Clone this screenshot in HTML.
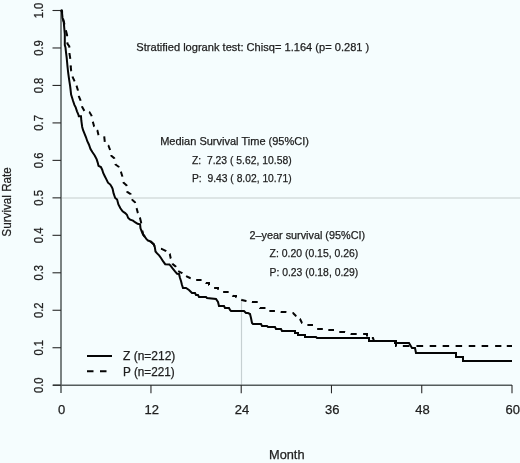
<!DOCTYPE html>
<html><head><meta charset="utf-8"><style>
html,body{margin:0;padding:0;background:#f5fdfe;overflow:hidden;}
svg{display:block;will-change:transform;}
</style></head><body>
<svg width="520" height="463" viewBox="0 0 520 463">
<rect x="0" y="0" width="520" height="463" fill="#f5fdfe"/>
<line x1="61" y1="198" x2="520" y2="198" stroke="#d4dcdc" stroke-width="1.6"/>
<line x1="241.5" y1="385" x2="241.5" y2="300" stroke="#c6d0d2" stroke-width="1.2"/>
<line x1="61" y1="10.5" x2="61" y2="393" stroke="#7a8282" stroke-width="2"/>
<line x1="53" y1="385.2" x2="512" y2="385.2" stroke="#555c5c" stroke-width="1.6"/>
<line x1="52.5" y1="385.20" x2="61" y2="385.20" stroke="#2a2a2a" stroke-width="1.1"/>
<line x1="52.5" y1="347.73" x2="61" y2="347.73" stroke="#2a2a2a" stroke-width="1.1"/>
<line x1="52.5" y1="310.26" x2="61" y2="310.26" stroke="#2a2a2a" stroke-width="1.1"/>
<line x1="52.5" y1="272.79" x2="61" y2="272.79" stroke="#2a2a2a" stroke-width="1.1"/>
<line x1="52.5" y1="235.32" x2="61" y2="235.32" stroke="#2a2a2a" stroke-width="1.1"/>
<line x1="52.5" y1="197.85" x2="61" y2="197.85" stroke="#2a2a2a" stroke-width="1.1"/>
<line x1="52.5" y1="160.38" x2="61" y2="160.38" stroke="#2a2a2a" stroke-width="1.1"/>
<line x1="52.5" y1="122.91" x2="61" y2="122.91" stroke="#2a2a2a" stroke-width="1.1"/>
<line x1="52.5" y1="85.44" x2="61" y2="85.44" stroke="#2a2a2a" stroke-width="1.1"/>
<line x1="52.5" y1="47.97" x2="61" y2="47.97" stroke="#2a2a2a" stroke-width="1.1"/>
<line x1="52.5" y1="10.50" x2="61" y2="10.50" stroke="#2a2a2a" stroke-width="1.1"/>
<line x1="150.96" y1="385" x2="150.96" y2="393.3" stroke="#2a2a2a" stroke-width="1.1"/>
<line x1="241.22" y1="385" x2="241.22" y2="393.3" stroke="#2a2a2a" stroke-width="1.1"/>
<line x1="331.48" y1="385" x2="331.48" y2="393.3" stroke="#2a2a2a" stroke-width="1.1"/>
<line x1="421.74" y1="385" x2="421.74" y2="393.3" stroke="#2a2a2a" stroke-width="1.1"/>
<line x1="512.00" y1="385" x2="512.00" y2="393.3" stroke="#2a2a2a" stroke-width="1.1"/>
<polyline points="60.7,10.5 61.8,10.5 62.5,17.7 63.8,22.3 64.2,27.4 64.8,33.9 64.8,45.0 65.5,47.6 65.9,51.4 66.7,57.9 67.5,66.5 68.2,73.0 69.1,79.4 70.1,85.9 70.5,89.0 71.1,94.5 72.1,97.7 73.1,101.0 74.4,104.9 75.7,107.4 77.0,111.3 78.6,115.2 78.8,116.2 81.0,116.3 81.3,120.5 82.2,127.0 83.1,130.2 84.4,133.4 86.0,137.3 87.3,141.2 88.9,144.5 90.5,149.0 92.5,152.3 94.7,155.5 96.7,159.4 97.7,162.6 98.5,165.8 100.9,167.1 102.2,169.7 103.2,173.0 104.8,176.2 106.4,179.4 108.0,182.7 110.3,184.6 111.9,187.2 112.6,188.9 113.6,193.4 115.2,198.0 117.1,199.6 118.4,204.4 120.4,208.3 122.6,211.3 125.2,213.1 126.9,214.7 128.2,218.0 130.1,219.6 133.0,220.6 135.0,222.2 137.6,223.8 140.1,224.4 140.5,228.3 141.8,231.5 143.1,234.7 145.0,237.0 146.3,238.9 148.0,240.5 151.0,241.5 153.8,244.4 154.8,247.0 155.5,251.5 157.1,253.4 159.1,255.4 161.0,258.0 163.0,261.2 165.2,264.2 169.4,264.4 171.1,266.4 173.0,269.0 175.2,271.7 177.1,273.7 179.0,274.0 180.0,278.0 181.0,281.0 182.0,285.0 183.0,288.0 186.0,288.0 189.0,290.0 190.0,291.0 192.0,293.0 195.0,293.0 196.0,295.0 198.0,295.0 199.0,297.0 206.0,297.0 207.0,298.0 216.0,299.0 218.0,302.0 219.0,306.0 224.0,306.0 225.0,308.0 229.0,308.0 230.0,310.0 231.0,311.0 244.0,311.0 246.0,313.0 248.0,313.0 250.0,314.0 251.0,318.0 252.0,323.0 253.0,324.0 261.0,324.0 262.0,326.0 267.0,326.0 268.0,327.0 275.0,327.0 276.0,329.0 281.0,329.0 282.0,331.0 295.0,331.0 295.0,333.0 298.0,333.0 298.0,335.0 305.0,335.0 305.0,337.0 316.0,337.0 317.0,338.0 369.0,338.0 369.0,341.0 395.0,341.0 395.0,343.0 409.0,343.0 412.0,348.0 415.0,348.0 416.0,353.0 456.0,353.0 456.0,357.0 463.0,357.0 463.0,361.0 512.0,361.0" fill="none" stroke="#050505" stroke-width="2" stroke-linejoin="miter"/>
<path d="M60.70,10.50 L62.00,11.00 L62.21,12.74 M63.04,18.68 L64.00,22.50 L64.45,24.51 M65.85,30.33 L66.10,31.30 L67.10,35.20 L67.14,36.20 M67.35,42.38 L67.40,43.70 L69.30,46.30 L69.34,47.62 M69.48,53.02 L69.50,53.70 L70.20,58.20 L70.24,58.88 M70.65,65.38 L70.70,66.20 L71.10,70.40 L71.29,71.20 M72.54,76.53 L72.70,77.20 L74.30,80.70 L74.58,81.33 M76.49,85.66 L76.60,85.90 L77.90,90.30 L77.94,90.56 M78.81,95.83 L78.90,96.40 L80.50,100.30 L80.64,100.86 M81.97,106.27 L82.10,106.80 L84.10,110.40 L84.45,110.83 M88.87,112.17 L89.60,112.30 L91.50,115.50 L91.65,116.22 M92.82,121.73 L92.90,122.10 L94.10,126.30 L94.33,126.60 M97.10,130.12 L97.40,130.50 L98.40,134.70 L98.63,135.12 M104.21,136.48 L104.79,141.82 M108.18,145.28 L108.40,145.50 L110.00,149.70 L110.06,150.00 M111.15,155.08 L111.30,155.80 L114.20,158.10 L114.35,158.82 M115.39,163.96 L115.50,164.50 L118.70,166.80 L118.92,167.31 M120.85,171.65 L121.00,172.00 L122.30,176.20 L122.37,176.57 M123.46,181.99 L123.60,182.70 L126.50,185.30 L126.58,186.02 M127.15,191.34 L127.20,191.80 L130.70,194.10 L130.83,194.54 M132.17,199.12 L132.40,199.90 L135.00,202.20 L135.21,202.98 M136.58,208.13 L136.60,208.20 L137.90,213.10 L137.93,213.16 M139.76,217.51 L140.10,218.30 L141.10,222.50 L141.20,223.35 M142.36,230.60 L143.00,234.00 L144.97,236.82 M150.16,241.14 L153.80,244.40 L154.53,246.28 M160.94,248.82 L161.70,248.90 L165.60,250.80 L166.20,251.27 M169.54,253.90 L169.80,254.10 L170.70,258.30 L170.81,258.61 M172.50,263.51 L172.70,264.10 L175.60,266.40 L175.89,266.95 M178.18,271.09 L182.00,273.00 L182.41,273.31 M186.08,276.04 L190.00,278.00 L190.71,278.24 M196.18,280.00 L201.56,280.00 M205.72,282.79 L206.00,283.00 L209.00,283.00 L209.00,285.00 L209.11,285.07 M214.12,288.00 L218.00,288.00 L218.00,289.80 M223.14,292.00 L228.66,292.00 M232.50,295.50 L233.00,296.00 L236.00,296.00 L236.00,297.00 L236.56,297.28 M241.27,299.63 L242.00,300.00 L246.00,301.00 L246.49,301.08 M251.90,301.98 L252.00,302.00 L257.71,302.00 M259.92,307.76 L260.00,308.00 L265.47,308.00 M269.37,311.00 L274.93,311.00 M280.65,311.94 L281.00,312.00 L286.00,312.00 L286.41,312.06 M292.46,312.92 L293.00,313.00 L296.00,316.00 L296.38,316.28 M299.79,318.84 L300.00,319.00 L302.00,323.00 L302.29,323.12 M307.40,325.00 L312.97,325.00 M317.16,329.00 L322.84,329.00 M328.31,330.00 L333.99,330.00 M339.30,332.00 L345.00,332.00 L345.09,332.03 M350.61,333.87 L351.00,334.00 L356.00,334.00 L356.69,334.00 M363.12,334.00 L367.00,334.00 L367.00,336.48 M371.86,338.00 L373.00,338.00 L374.00,341.00 L376.08,341.00 M382.46,341.00 L388.83,341.00 M395.21,341.00 L396.00,341.00 L396.00,346.00 L396.59,346.00 M402.85,346.00 L409.45,346.00 M416.45,346.00 L423.15,346.00 M429.69,346.00 L436.21,346.00 M442.66,346.00 L449.14,346.00 M455.59,346.00 L462.11,346.00 M468.74,346.00 L475.26,346.00 M481.62,346.00 L488.18,346.00 M495.13,346.00 L501.37,346.00 M506.77,346.00 L512.00,346.00" fill="none" stroke="#050505" stroke-width="2"/>
<line x1="87" y1="356" x2="112" y2="356" stroke="#050505" stroke-width="2"/>
<path d="M87,371.2 H93.5 M100,371.2 H106.5" stroke="#050505" stroke-width="1.9"/>
<text x="136.3" y="51.2" font-size="11.6" font-family="'Liberation Sans', sans-serif" style="white-space:pre" fill="#202020" stroke="#202020" stroke-width="0.25" text-anchor="start" textLength="233" lengthAdjust="spacingAndGlyphs" xml:space="preserve">Stratified logrank test: Chisq= 1.164 (p= 0.281 )</text>
<text x="160.2" y="144.5" font-size="11.6" font-family="'Liberation Sans', sans-serif" style="white-space:pre" fill="#202020" stroke="#202020" stroke-width="0.25" text-anchor="start" textLength="148.8" lengthAdjust="spacingAndGlyphs" xml:space="preserve">Median Survival Time (95%CI)</text>
<text x="192" y="163.6" font-size="11.6" font-family="'Liberation Sans', sans-serif" style="white-space:pre" fill="#202020" stroke="#202020" stroke-width="0.25" text-anchor="start" textLength="99.6" lengthAdjust="spacingAndGlyphs" xml:space="preserve">Z:  7.23 ( 5.62, 10.58)</text>
<text x="192" y="182.1" font-size="11.6" font-family="'Liberation Sans', sans-serif" style="white-space:pre" fill="#202020" stroke="#202020" stroke-width="0.25" text-anchor="start" textLength="99.6" lengthAdjust="spacingAndGlyphs" xml:space="preserve">P:  9.43 ( 8.02, 10.71)</text>
<text x="249.5" y="238.6" font-size="11.6" font-family="'Liberation Sans', sans-serif" style="white-space:pre" fill="#202020" stroke="#202020" stroke-width="0.25" text-anchor="start" textLength="115.6" lengthAdjust="spacingAndGlyphs" xml:space="preserve">2–year survival (95%CI)</text>
<text x="269.5" y="257.2" font-size="11.6" font-family="'Liberation Sans', sans-serif" style="white-space:pre" fill="#202020" stroke="#202020" stroke-width="0.25" text-anchor="start" textLength="88.8" lengthAdjust="spacingAndGlyphs" xml:space="preserve">Z: 0.20 (0.15, 0.26)</text>
<text x="269.5" y="275.6" font-size="11.6" font-family="'Liberation Sans', sans-serif" style="white-space:pre" fill="#202020" stroke="#202020" stroke-width="0.25" text-anchor="start" textLength="88.8" lengthAdjust="spacingAndGlyphs" xml:space="preserve">P: 0.23 (0.18, 0.29)</text>
<text x="123" y="360.4" font-size="12" font-family="'Liberation Sans', sans-serif" style="white-space:pre" fill="#202020" stroke="#202020" stroke-width="0.25" text-anchor="start" textLength="52.3" lengthAdjust="spacingAndGlyphs" xml:space="preserve">Z (n=212)</text>
<text x="123" y="375.8" font-size="12" font-family="'Liberation Sans', sans-serif" style="white-space:pre" fill="#202020" stroke="#202020" stroke-width="0.25" text-anchor="start" textLength="51.8" lengthAdjust="spacingAndGlyphs" xml:space="preserve">P (n=221)</text>
<text x="61.5" y="413.6" font-size="13" font-family="'Liberation Sans', sans-serif" style="white-space:pre" fill="#202020" stroke="#202020" stroke-width="0.25" text-anchor="middle" xml:space="preserve">0</text>
<text x="151.76" y="413.6" font-size="13" font-family="'Liberation Sans', sans-serif" style="white-space:pre" fill="#202020" stroke="#202020" stroke-width="0.25" text-anchor="middle" xml:space="preserve">12</text>
<text x="242.02" y="413.6" font-size="13" font-family="'Liberation Sans', sans-serif" style="white-space:pre" fill="#202020" stroke="#202020" stroke-width="0.25" text-anchor="middle" xml:space="preserve">24</text>
<text x="332.28" y="413.6" font-size="13" font-family="'Liberation Sans', sans-serif" style="white-space:pre" fill="#202020" stroke="#202020" stroke-width="0.25" text-anchor="middle" xml:space="preserve">36</text>
<text x="422.54" y="413.6" font-size="13" font-family="'Liberation Sans', sans-serif" style="white-space:pre" fill="#202020" stroke="#202020" stroke-width="0.25" text-anchor="middle" xml:space="preserve">48</text>
<text x="512.8" y="413.6" font-size="13" font-family="'Liberation Sans', sans-serif" style="white-space:pre" fill="#202020" stroke="#202020" stroke-width="0.25" text-anchor="middle" xml:space="preserve">60</text>
<text x="269" y="459.2" font-size="12.5" font-family="'Liberation Sans', sans-serif" style="white-space:pre" fill="#202020" stroke="#202020" stroke-width="0.25" text-anchor="start" textLength="35.5" lengthAdjust="spacingAndGlyphs" xml:space="preserve">Month</text>
<text x="43.0" y="385.2" font-size="12.5" font-family="'Liberation Sans', sans-serif" style="white-space:pre" fill="#202020" stroke="#202020" stroke-width="0.25" text-anchor="middle" textLength="15.6" lengthAdjust="spacingAndGlyphs" transform="rotate(-90 43.0 385.2)" xml:space="preserve">0.0</text>
<text x="43.0" y="347.73" font-size="12.5" font-family="'Liberation Sans', sans-serif" style="white-space:pre" fill="#202020" stroke="#202020" stroke-width="0.25" text-anchor="middle" textLength="15.6" lengthAdjust="spacingAndGlyphs" transform="rotate(-90 43.0 347.73)" xml:space="preserve">0.1</text>
<text x="43.0" y="310.26" font-size="12.5" font-family="'Liberation Sans', sans-serif" style="white-space:pre" fill="#202020" stroke="#202020" stroke-width="0.25" text-anchor="middle" textLength="15.6" lengthAdjust="spacingAndGlyphs" transform="rotate(-90 43.0 310.26)" xml:space="preserve">0.2</text>
<text x="43.0" y="272.79" font-size="12.5" font-family="'Liberation Sans', sans-serif" style="white-space:pre" fill="#202020" stroke="#202020" stroke-width="0.25" text-anchor="middle" textLength="15.6" lengthAdjust="spacingAndGlyphs" transform="rotate(-90 43.0 272.79)" xml:space="preserve">0.3</text>
<text x="43.0" y="235.32" font-size="12.5" font-family="'Liberation Sans', sans-serif" style="white-space:pre" fill="#202020" stroke="#202020" stroke-width="0.25" text-anchor="middle" textLength="15.6" lengthAdjust="spacingAndGlyphs" transform="rotate(-90 43.0 235.32)" xml:space="preserve">0.4</text>
<text x="43.0" y="197.85" font-size="12.5" font-family="'Liberation Sans', sans-serif" style="white-space:pre" fill="#202020" stroke="#202020" stroke-width="0.25" text-anchor="middle" textLength="15.6" lengthAdjust="spacingAndGlyphs" transform="rotate(-90 43.0 197.85)" xml:space="preserve">0.5</text>
<text x="43.0" y="160.38" font-size="12.5" font-family="'Liberation Sans', sans-serif" style="white-space:pre" fill="#202020" stroke="#202020" stroke-width="0.25" text-anchor="middle" textLength="15.6" lengthAdjust="spacingAndGlyphs" transform="rotate(-90 43.0 160.38)" xml:space="preserve">0.6</text>
<text x="43.0" y="122.91" font-size="12.5" font-family="'Liberation Sans', sans-serif" style="white-space:pre" fill="#202020" stroke="#202020" stroke-width="0.25" text-anchor="middle" textLength="15.6" lengthAdjust="spacingAndGlyphs" transform="rotate(-90 43.0 122.91)" xml:space="preserve">0.7</text>
<text x="43.0" y="85.44" font-size="12.5" font-family="'Liberation Sans', sans-serif" style="white-space:pre" fill="#202020" stroke="#202020" stroke-width="0.25" text-anchor="middle" textLength="15.6" lengthAdjust="spacingAndGlyphs" transform="rotate(-90 43.0 85.44)" xml:space="preserve">0.8</text>
<text x="43.0" y="47.97" font-size="12.5" font-family="'Liberation Sans', sans-serif" style="white-space:pre" fill="#202020" stroke="#202020" stroke-width="0.25" text-anchor="middle" textLength="15.6" lengthAdjust="spacingAndGlyphs" transform="rotate(-90 43.0 47.97)" xml:space="preserve">0.9</text>
<text x="43.0" y="10.5" font-size="12.5" font-family="'Liberation Sans', sans-serif" style="white-space:pre" fill="#202020" stroke="#202020" stroke-width="0.25" text-anchor="middle" textLength="15.6" lengthAdjust="spacingAndGlyphs" transform="rotate(-90 43.0 10.5)" xml:space="preserve">1.0</text>
<text x="11.2" y="201.9" font-size="12.5" font-family="'Liberation Sans', sans-serif" style="white-space:pre" fill="#202020" stroke="#202020" stroke-width="0.25" text-anchor="middle" textLength="69.5" lengthAdjust="spacingAndGlyphs" transform="rotate(-90 11.2 201.9)" xml:space="preserve">Survival Rate</text>
</svg>
</body></html>
